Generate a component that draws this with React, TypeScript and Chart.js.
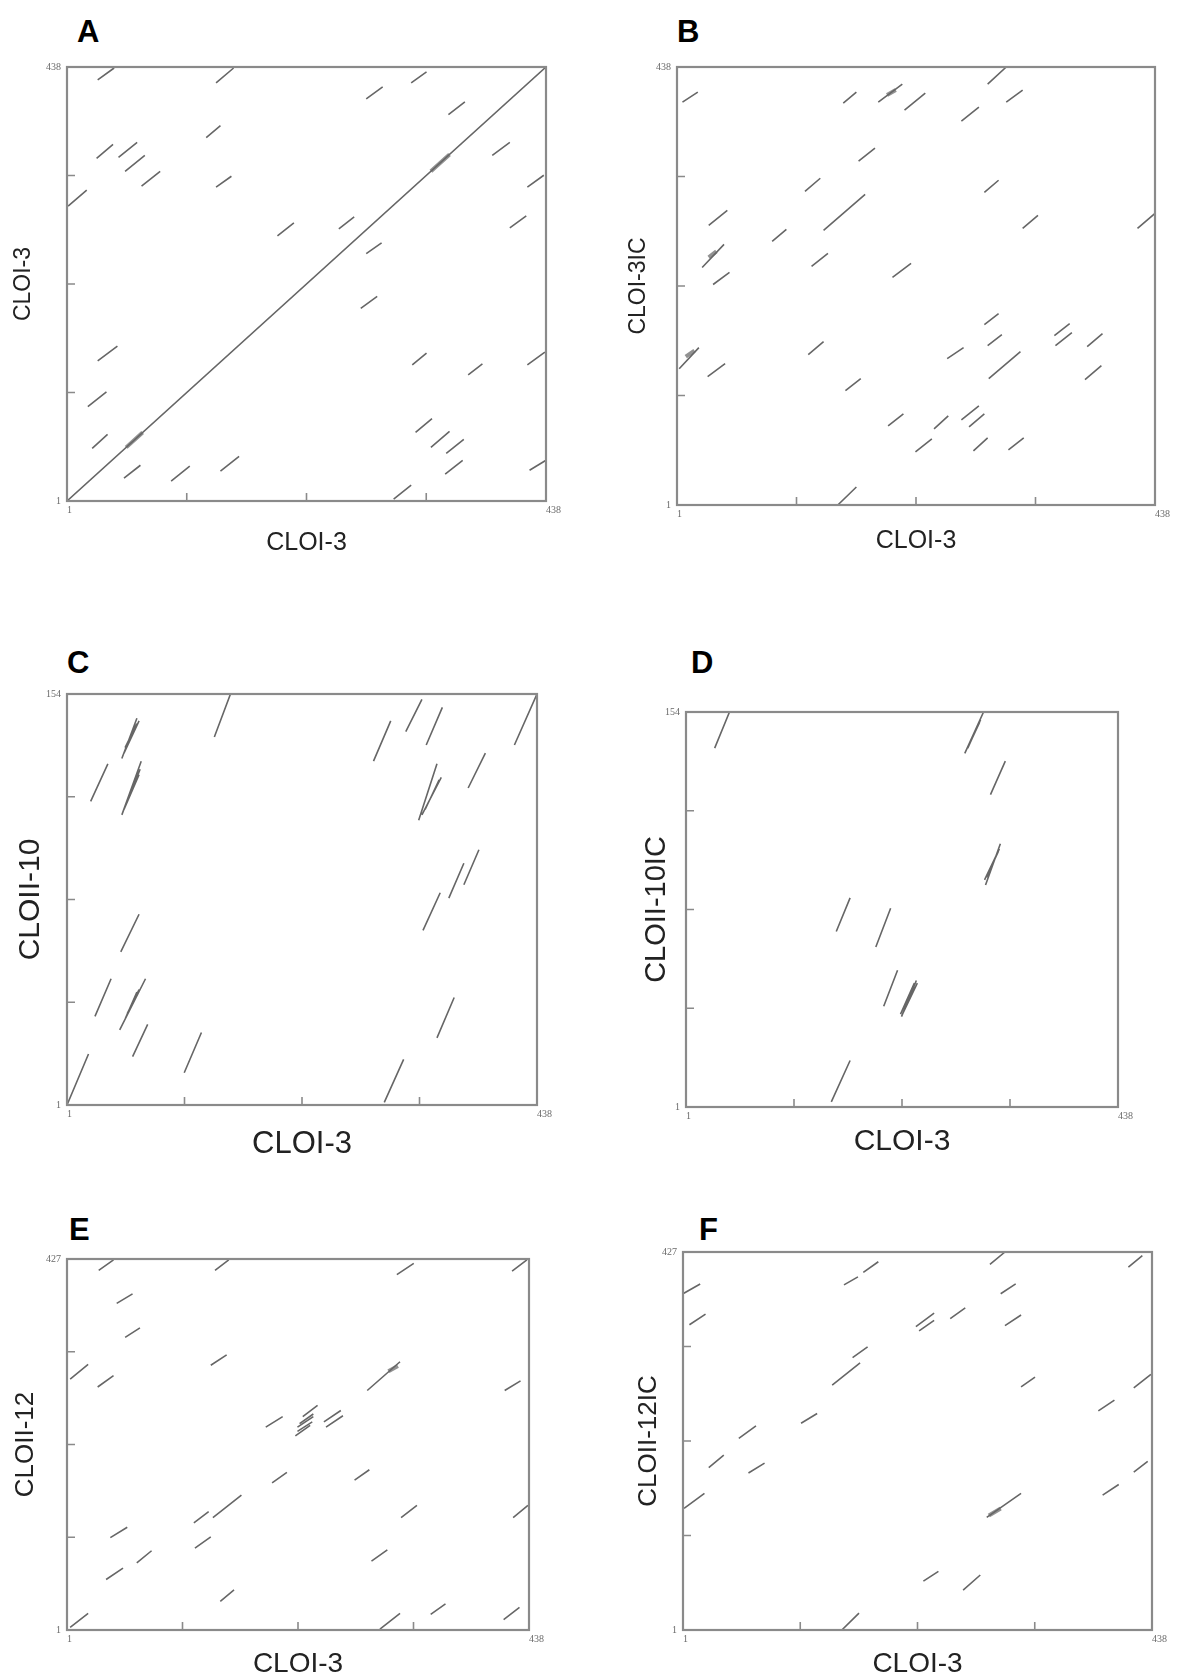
import React, { useEffect, useRef } from 'react';
import { Chart, registerables } from 'chart.js';

Chart.register(...registerables);

// ---------- sequence lengths / tick labels ----------
const lenCLOI3 = 438;
const lenCLOI3IC = 438;
const lenCLOII10 = 154;
const lenCLOII10IC = 154;
const lenCLOII12 = 427;
const lenCLOII12IC = 427;

const quarterTicks438 = [110.25, 219.5, 328.75];
const quarterTicks154 = [39.25, 77.5, 115.75];
const quarterTicks427 = [107.5, 214, 320.5];

const panelLetters = ['A', 'B', 'C', 'D', 'E', 'F'];
const xTitles = ['CLOI-3', 'CLOI-3', 'CLOI-3', 'CLOI-3', 'CLOI-3', 'CLOI-3'];
const yTitles = ['CLOI-3', 'CLOI-3IC', 'CLOII-10', 'CLOII-10IC', 'CLOII-12', 'CLOII-12IC'];

// ---------- match segments [x1, y1, x2, y2] ----------
const segA = [
  [29, 425, 44, 437], [137, 422, 153, 437], [274, 406, 289, 418], [315, 422, 329, 433],
  [349, 390, 364, 403], [128, 367, 141, 379], [28, 346, 43, 360], [48, 347, 65, 362],
  [54, 333, 72, 349], [69, 318, 86, 333], [137, 317, 151, 328], [2, 298, 19, 314],
  [389, 349, 405, 362], [421, 317, 436, 329], [405, 276, 420, 288], [193, 268, 208, 281],
  [249, 275, 263, 287], [274, 250, 288, 261], [269, 195, 284, 207], [29, 142, 47, 157],
  [20, 96, 37, 111], [24, 54, 38, 68], [53, 24, 68, 37], [96, 21, 113, 36],
  [141, 31, 158, 46], [316, 138, 329, 150], [367, 128, 380, 139], [421, 138, 437, 151],
  [319, 70, 334, 84], [333, 55, 350, 71], [347, 49, 363, 63], [346, 28, 362, 42],
  [423, 32, 438, 42], [299, 3, 315, 17], [1, 1, 438, 438],
];
const thickA = [[55, 55, 70, 70], [333, 333, 350, 350]];

const segB = [
  [6, 403, 20, 413], [153, 402, 165, 413], [185, 403, 207, 421], [209, 395, 228, 412],
  [285, 421, 302, 438], [302, 403, 317, 415], [261, 384, 277, 398], [167, 344, 182, 357],
  [118, 314, 132, 327], [282, 313, 295, 325], [135, 275, 173, 311], [30, 280, 47, 295],
  [88, 264, 101, 276], [24, 238, 44, 261], [34, 221, 49, 233], [124, 239, 139, 252],
  [317, 277, 331, 290], [422, 277, 438, 292], [198, 228, 215, 242], [282, 181, 295, 192],
  [346, 170, 360, 182], [347, 160, 362, 173], [376, 159, 390, 172], [285, 160, 298, 171],
  [3, 137, 21, 158], [121, 151, 135, 164], [248, 147, 263, 158], [286, 127, 315, 154],
  [29, 129, 45, 142], [374, 126, 389, 140], [155, 115, 169, 127], [194, 80, 208, 92],
  [236, 77, 249, 90], [261, 86, 277, 100], [268, 79, 282, 92], [219, 54, 234, 67],
  [272, 55, 285, 68], [304, 56, 318, 68], [148, 1, 165, 19],
];
const thickB = [[193, 410, 201, 415], [30, 248, 37, 254], [9, 149, 17, 155]];

const segC = [
  [1, 1, 21, 20], [138, 138, 153, 154], [286, 129, 302, 144], [316, 140, 331, 152],
  [335, 135, 350, 149], [417, 135, 438, 154], [52, 130, 66, 145], [54, 132, 68, 144],
  [55, 134, 66, 143], [23, 114, 39, 128], [52, 109, 70, 129], [54, 111, 68, 124],
  [56, 113, 69, 126], [374, 119, 390, 132], [328, 107, 345, 128], [331, 109, 349, 123],
  [334, 111, 347, 122], [356, 78, 370, 91], [370, 83, 384, 96], [332, 66, 348, 80],
  [51, 58, 68, 72], [27, 34, 42, 48], [50, 29, 74, 48], [55, 33, 66, 43],
  [57, 35, 68, 44], [62, 19, 76, 31], [110, 13, 126, 28], [345, 26, 361, 41],
  [296, 2, 314, 18],
];
const thickC: number[][] = [];

const segD = [
  [30, 140, 45, 154], [283, 138, 302, 154], [286, 140, 299, 151], [287, 141, 298, 150],
  [309, 122, 324, 135], [304, 87, 319, 103], [303, 89, 318, 101], [305, 90, 317, 100],
  [153, 69, 167, 82], [193, 63, 208, 78], [201, 40, 215, 54], [219, 36, 234, 50],
  [218, 37, 232, 49], [220, 37, 235, 49], [148, 3, 167, 19],
];
const thickD: number[][] = [];

const segE = [
  [31, 414, 45, 426], [141, 414, 154, 426], [313, 409, 329, 422], [422, 413, 436, 426],
  [48, 376, 63, 387], [56, 337, 70, 348], [137, 305, 152, 317], [4, 289, 21, 306],
  [30, 280, 45, 293], [285, 276, 316, 309], [415, 276, 430, 287], [189, 234, 205, 246],
  [224, 246, 238, 259], [221, 238, 234, 249], [219, 234, 234, 246], [219, 229, 233, 240],
  [217, 224, 231, 236], [244, 240, 260, 253], [246, 234, 262, 247], [195, 170, 209, 182],
  [273, 173, 287, 185], [121, 124, 135, 137], [139, 130, 166, 156], [317, 130, 332, 144],
  [423, 130, 437, 144], [42, 107, 58, 119], [122, 95, 137, 108], [67, 78, 81, 92],
  [38, 59, 54, 72], [289, 80, 304, 93], [146, 34, 159, 47], [4, 4, 21, 20],
  [297, 2, 316, 20], [345, 19, 359, 31], [414, 13, 429, 27],
];
const thickE = [[305, 298, 314, 304]];

const segF = [
  [287, 413, 301, 427], [416, 410, 429, 423], [151, 390, 164, 399], [169, 404, 183, 416],
  [1, 380, 17, 391], [297, 380, 311, 391], [7, 345, 22, 357], [250, 352, 264, 364],
  [218, 343, 235, 358], [221, 338, 235, 350], [301, 344, 316, 356], [159, 308, 173, 320],
  [140, 277, 166, 302], [316, 275, 329, 286], [421, 274, 437, 289], [388, 248, 403, 260],
  [111, 234, 126, 245], [53, 217, 69, 231], [25, 184, 39, 198], [62, 178, 77, 189],
  [421, 179, 434, 191], [392, 153, 407, 165], [2, 138, 21, 155], [284, 128, 316, 155],
  [225, 56, 239, 67], [262, 46, 278, 63], [149, 1, 165, 20],
];
const thickF = [[286, 130, 297, 138]];

// ---------- layout (page pixels) ----------
interface PanelLayout {
  L: number; R: number; T: number; B: number;
  yTitleX: number; yFont: number;
  xTitleY: number; xFont: number;
  letterX: number; letterBase: number;
}
const layouts: PanelLayout[] = [
  { L: 67, R: 546, T: 67, B: 501, yTitleX: 24, yFont: 23, xTitleY: 543, xFont: 25, letterX: 77, letterBase: 42 },
  { L: 677, R: 1155, T: 67, B: 505, yTitleX: 639, yFont: 23, xTitleY: 541, xFont: 25, letterX: 677, letterBase: 42 },
  { L: 67, R: 537, T: 694, B: 1105, yTitleX: 31, yFont: 30, xTitleY: 1144, xFont: 31, letterX: 67, letterBase: 673 },
  { L: 686, R: 1118, T: 712, B: 1107, yTitleX: 657, yFont: 29, xTitleY: 1142, xFont: 30, letterX: 691, letterBase: 673 },
  { L: 67, R: 529, T: 1259, B: 1630, yTitleX: 26, yFont: 26, xTitleY: 1664, xFont: 28, letterX: 69, letterBase: 1240 },
  { L: 683, R: 1152, T: 1252, B: 1630, yTitleX: 649, yFont: 26, xTitleY: 1664, xFont: 28, letterX: 699, letterBase: 1240 },
];

const panelData = [
  { seg: segA, thick: thickA, xMax: lenCLOI3, yMax: lenCLOI3, xq: quarterTicks438, yq: quarterTicks438 },
  { seg: segB, thick: thickB, xMax: lenCLOI3, yMax: lenCLOI3IC, xq: quarterTicks438, yq: quarterTicks438 },
  { seg: segC, thick: thickC, xMax: lenCLOI3, yMax: lenCLOII10, xq: quarterTicks438, yq: quarterTicks154 },
  { seg: segD, thick: thickD, xMax: lenCLOI3, yMax: lenCLOII10IC, xq: quarterTicks438, yq: quarterTicks154 },
  { seg: segE, thick: thickE, xMax: lenCLOI3, yMax: lenCLOII12, xq: quarterTicks438, yq: quarterTicks427 },
  { seg: segF, thick: thickF, xMax: lenCLOI3, yMax: lenCLOII12IC, xq: quarterTicks438, yq: quarterTicks427 },
];

const SANS = '"Liberation Sans", Arial, Helvetica, sans-serif';
const SERIF = '"Liberation Serif", "Times New Roman", serif';

function toPoints(segs: number[][]) {
  const pts: { x: number; y: number }[] = [];
  segs.forEach((s) => {
    pts.push({ x: s[0], y: s[1] });
    pts.push({ x: s[2], y: s[3] });
    pts.push({ x: NaN, y: NaN });
  });
  return pts;
}

const framePlugin = {
  id: 'frame',
  afterDatasetsDraw(chart: any, _args: any, opts: any) {
    const { ctx, chartArea, scales } = chart;
    const { left, right, top, bottom } = chartArea;
    ctx.save();
    ctx.strokeStyle = '#8a8a8a';
    ctx.lineWidth = 2.2;
    ctx.strokeRect(left, top, right - left, bottom - top);
    ctx.lineWidth = 1.6;
    ctx.beginPath();
    (opts.xq || []).forEach((v: number) => {
      const px = scales.x.getPixelForValue(v);
      ctx.moveTo(px, bottom);
      ctx.lineTo(px, bottom - 8);
    });
    (opts.yq || []).forEach((v: number) => {
      const py = scales.y.getPixelForValue(v);
      ctx.moveTo(left, py);
      ctx.lineTo(left + 8, py);
    });
    ctx.stroke();
    ctx.restore();
  },
};

function DotPlot({ idx }: { idx: number }) {
  const ref = useRef<HTMLCanvasElement | null>(null);
  const lay = layouts[idx];
  const d = panelData[idx];
  const lhY = lay.yFont * 1.2;
  const lhX = lay.xFont * 1.2;
  const cLeft = Math.round(lay.yTitleX - lhY / 2);
  const cTop = lay.T - 16;
  const cRight = lay.R + 30;
  const cBottom = Math.round(lay.xTitleY + lhX / 2);
  const w = cRight - cLeft;
  const h = cBottom - cTop;

  useEffect(() => {
    if (!ref.current) return;
    const chart = new Chart(ref.current, {
      type: 'scatter',
      data: {
        datasets: [
          {
            data: toPoints(d.seg),
            showLine: true,
            spanGaps: false,
            borderColor: '#666666',
            borderWidth: 1.6,
            pointRadius: 0,
            pointHoverRadius: 0,
          },
          {
            data: toPoints(d.thick),
            showLine: true,
            spanGaps: false,
            borderColor: 'rgba(110,110,110,0.75)',
            borderWidth: 4,
            pointRadius: 0,
            pointHoverRadius: 0,
          },
        ],
      },
      options: {
        responsive: false,
        animation: false,
        devicePixelRatio: 1,
        layout: { padding: { top: lay.T - cTop, right: cRight - lay.R, left: 0, bottom: 0 } },
        plugins: {
          legend: { display: false },
          tooltip: { enabled: false },
          frame: { xq: d.xq, yq: d.yq },
        } as any,
        scales: {
          x: {
            type: 'linear',
            min: 1,
            max: d.xMax,
            afterBuildTicks: (s: any) => {
              s.ticks = [{ value: 1 }, { value: d.xMax }];
            },
            afterFit: (s: any) => {
              s.height = cBottom - lay.B;
            },
            ticks: {
              align: 'start',
              autoSkip: false,
              maxRotation: 0,
              padding: 3,
              color: '#6a6a6a',
              font: { family: SERIF, size: 10 },
              callback: (v: any) => String(v),
            },
            grid: { display: false, drawTicks: false },
            border: { display: false },
            title: {
              display: true,
              text: xTitles[idx],
              color: '#222222',
              font: { family: SANS, size: lay.xFont },
              padding: { top: 0, bottom: 0 },
            },
          },
          y: {
            type: 'linear',
            min: 1,
            max: d.yMax,
            afterBuildTicks: (s: any) => {
              s.ticks = [{ value: 1 }, { value: d.yMax }];
            },
            afterFit: (s: any) => {
              s.width = lay.L - cLeft;
            },
            ticks: {
              autoSkip: false,
              padding: 6,
              color: '#6a6a6a',
              font: { family: SERIF, size: 10 },
              callback: (v: any) => String(v),
            },
            grid: { display: false, drawTicks: false },
            border: { display: false },
            title: {
              display: true,
              text: yTitles[idx],
              color: '#222222',
              font: { family: SANS, size: lay.yFont },
              padding: { top: 0, bottom: 0 },
            },
          },
        },
      } as any,
      plugins: [framePlugin],
    });
    return () => chart.destroy();
  }, []);

  return (
    <>
      <div
        style={{
          position: 'absolute',
          left: lay.letterX,
          top: lay.letterBase - 25.5,
          fontFamily: SANS,
          fontWeight: 'bold',
          fontSize: 31,
          lineHeight: '30px',
          color: '#000',
        }}
      >
        {panelLetters[idx]}
      </div>
      <canvas
        ref={ref}
        width={w}
        height={h}
        style={{ position: 'absolute', left: cLeft, top: cTop, width: w, height: h }}
      />
    </>
  );
}

export default function App() {
  return (
    <div
      style={{
        position: 'absolute',
        left: 0,
        top: 0,
        width: 1180,
        height: 1680,
        background: '#ffffff',
        overflow: 'hidden',
      }}
    >
      {layouts.map((_, i) => (
        <DotPlot key={i} idx={i} />
      ))}
    </div>
  );
}
